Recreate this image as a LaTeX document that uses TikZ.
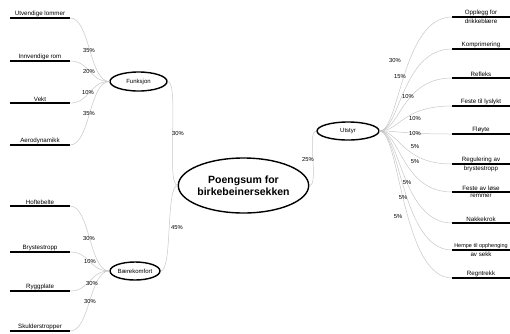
\documentclass[tikz,border=0pt]{standalone}
\usepackage{fontspec}
\setmainfont{Liberation Sans}
\usetikzlibrary{shapes.geometric}
\begin{document}
\begin{tikzpicture}[x=1pt,y=-1pt,
    topic/.style={ellipse,draw,line width=1.4pt,inner sep=0pt,font=\fontsize{6}{7}\selectfont},
    leaf/.style={anchor=south,inner xsep=0pt,inner ysep=1.5pt,font=\fontsize{6.2}{7.2}\selectfont},
    secondline/.style={label={[font=\fontsize{6.2}{7.2}\selectfont,inner sep=0.5pt,label distance=1.2pt]below:#1}},
    leafline/.style={line width=2pt},
    branch/.style={draw=black!22,line width=0.5pt},
    pct/.style={font=\fontsize{5.8}{7}\selectfont,inner sep=0pt}]
      \useasboundingbox (0,0) rectangle (510,333);
      \node[topic,minimum width=113pt,minimum height=55pt,align=center,
        font=\bfseries\fontsize{10.5}{12.5}\selectfont] (root) at (243.5,185.5) {Poengsum for\\birkebeinersekken};
      \node[topic,minimum width=57pt,minimum height=19pt] (fun) at (138.5,81.5) {Funksjon};
      \node[topic,minimum width=50pt,minimum height=18pt] (bk) at (135,271) {Bærekomfort};
      \node[topic,minimum width=62pt,minimum height=18pt] (ut) at (348,131) {Utstyr};
      \draw
        (40,18) node[leaf] (lom){Utvendige lommer}
        (40,61) node[leaf] (rom){Innvendige rom}
        (40,103) node[leaf] (vekt){Vekt}
        (40,145) node[leaf] (aero){Aerodynamikk}
        (40,206) node[leaf] (hofte){Hoftebelte}
        (40,252) node[leaf] (bryst){Brystestropp}
        (40,291) node[leaf] (rygg){Ryggplate}
        (40,331) node[leaf] (skul){Skulderstropper};
      \draw
        (481,17) node[leaf,secondline=drikkeblære] (drikke){Opplegg for}
        (481,49) node[leaf] (komp){Komprimering}
        (481,78) node[leaf] (refl){Refleks}
        (481,106) node[leaf] (lykt){Feste til lyslykt}
        (481,134) node[leaf] (floyte){Fløyte}
        (481,164) node[leaf,secondline=brystestropp] (reg){Regulering av}
        (481,192) node[leaf,secondline=remmer] (rem){Feste av løse}
        (481,223) node[leaf] (nakke){Nakkekrok}
        (481,250) node[leaf,font=\fontsize{5.5}{6.5}\selectfont,secondline=av sekk] (hempe){Hempe til opphenging}
        (481,278) node[leaf] (regn){Regntrekk};
      \foreach \n in {lom,rom,vekt,aero,hofte,bryst,rygg,skul}
        \draw[leafline] (\n.south) +(-30,0) -- +(30,0);
      \foreach \n in {drikke,komp,refl,lykt,floyte,reg,rem,nakke,hempe,regn}
        \draw[leafline] (\n.south) +(-29,0) -- +(29,0);
      \begin{scope}[branch]
        \draw (root.west) .. controls +(-12,0) and +(12,0) .. (fun.east);
        \draw (root.west) .. controls +(-12,0) and +(12,0) .. (bk.east);
        \draw (root.east) .. controls +(10,0) and +(-10,0) .. (ut.west);
        \foreach \n in {lom,rom,vekt,aero}
          \draw (fun.west) .. controls +(-20,0) and +(20,0) .. ([xshift=30pt]\n.south);
        \foreach \n in {hofte,bryst,rygg,skul}
          \draw (bk.west) .. controls +(-20,0) and +(20,0) .. ([xshift=30pt]\n.south);
        \foreach \n in {drikke,komp,refl,lykt,floyte,reg,rem,nakke,hempe,regn}
          \draw (ut.east) .. controls +(20,0) and +(-50,0) .. ([xshift=-29pt]\n.south);
      \end{scope}
      \foreach \n/\x/\y/\t in {pf1/89/50/35,pf2/89/71/20,pf3/88/92/10,pf4/89/113/35,
          pb1/89/238/30,pb2/90/261/10,pb3/92/283/30,pb4/90/301/30,
          pr1/178/133/30,pr2/177/228/45,pr3/308/159/25,
          pu1/395/60/30,pu2/400/77/15,pu3/408/96/10,pu4/415/118/10,pu5/415/133/10,
          pu6/415/147/5,pu7/415/162/5,pu8/407/183/5,pu9/403/198/5,pu10/398/217/5}
        \node[pct] (\n) at (\x,\y) {\t\%};
    \end{tikzpicture}
\end{document}
